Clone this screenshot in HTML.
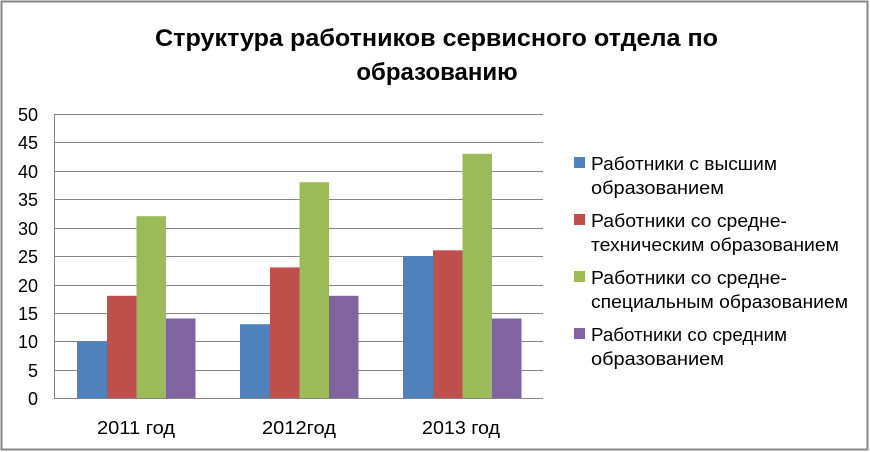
<!DOCTYPE html>
<html><head><meta charset="utf-8"><style>
body{margin:0;width:870px;height:452px;background:#fff;overflow:hidden}
svg{display:block;font-family:"Liberation Sans","DejaVu Sans",sans-serif}
</style></head><body>
<svg width="870" height="452" viewBox="0 0 870 452">
<rect x="1.5" y="1.5" width="866" height="448" fill="#fff" stroke="#868686" stroke-width="2"/>
<text x="155" y="46" font-size="24" font-weight="bold" textLength="563" lengthAdjust="spacingAndGlyphs">Структура работников сервисного отдела по</text>
<text x="437" y="80" text-anchor="middle" font-size="24" font-weight="bold">образованию</text>
<g stroke="#868686" stroke-width="1">
<line x1="54" y1="114.5" x2="543" y2="114.5"/><line x1="54" y1="142.5" x2="543" y2="142.5"/>
<line x1="54" y1="171.5" x2="543" y2="171.5"/><line x1="54" y1="199.5" x2="543" y2="199.5"/>
<line x1="54" y1="228.5" x2="543" y2="228.5"/><line x1="54" y1="256.5" x2="543" y2="256.5"/>
<line x1="54" y1="285.5" x2="543" y2="285.5"/><line x1="54" y1="313.5" x2="543" y2="313.5"/>
<line x1="54" y1="341.5" x2="543" y2="341.5"/><line x1="54" y1="370.5" x2="543" y2="370.5"/>
</g>
<g font-size="18" text-anchor="end" fill="#000">
<text x="38" y="121">50</text><text x="38" y="149">45</text><text x="38" y="178">40</text>
<text x="38" y="206">35</text><text x="38" y="235">30</text><text x="38" y="263">25</text>
<text x="38" y="292">20</text><text x="38" y="320">15</text><text x="38" y="348">10</text>
<text x="38" y="377">5</text><text x="38" y="405">0</text>
</g>
<g>
<rect x="77" y="341.2" width="30" height="56.8" fill="#4f81bd"/>
<rect x="107" y="295.8" width="29.5" height="102.2" fill="#c0504d"/>
<rect x="136.5" y="216.2" width="29.5" height="181.8" fill="#9bbb59"/>
<rect x="166" y="318.5" width="29.5" height="79.5" fill="#8064a2"/>
<rect x="240" y="324.2" width="30" height="73.8" fill="#4f81bd"/>
<rect x="270" y="267.4" width="29.5" height="130.6" fill="#c0504d"/>
<rect x="299.5" y="182.2" width="29.5" height="215.8" fill="#9bbb59"/>
<rect x="329" y="295.8" width="29.5" height="102.2" fill="#8064a2"/>
<rect x="403" y="256" width="30" height="142" fill="#4f81bd"/>
<rect x="433" y="250.3" width="29.5" height="147.7" fill="#c0504d"/>
<rect x="462.5" y="153.8" width="29.5" height="244.2" fill="#9bbb59"/>
<rect x="492" y="318.5" width="29.5" height="79.5" fill="#8064a2"/>
</g>
<line x1="54" y1="398.5" x2="543" y2="398.5" stroke="#868686"/>
<line x1="54.5" y1="114" x2="54.5" y2="399" stroke="#868686"/>
<g font-size="18">
<text x="97" y="434" textLength="78" lengthAdjust="spacingAndGlyphs">2011 год</text>
<text x="262" y="434" textLength="74" lengthAdjust="spacingAndGlyphs">2012год</text>
<text x="422" y="434" textLength="78" lengthAdjust="spacingAndGlyphs">2013 год</text>
</g>
<g font-size="18">
<rect x="574" y="157" width="11" height="11" fill="#4f81bd"/>
<text x="591" y="170" textLength="186" lengthAdjust="spacingAndGlyphs">Работники с высшим</text><text x="591" y="194" textLength="133" lengthAdjust="spacingAndGlyphs">образованием</text>
<rect x="574" y="214" width="11" height="11" fill="#c0504d"/>
<text x="591" y="227" textLength="196" lengthAdjust="spacingAndGlyphs">Работники со средне-</text><text x="591" y="251" textLength="248" lengthAdjust="spacingAndGlyphs">техническим образованием</text>
<rect x="574" y="271" width="11" height="11" fill="#9bbb59"/>
<text x="591" y="284" textLength="196" lengthAdjust="spacingAndGlyphs">Работники со средне-</text><text x="591" y="308" textLength="257" lengthAdjust="spacingAndGlyphs">специальным образованием</text>
<rect x="574" y="328" width="11" height="11" fill="#8064a2"/>
<text x="591" y="341" textLength="196" lengthAdjust="spacingAndGlyphs">Работники со средним</text><text x="591" y="365" textLength="133" lengthAdjust="spacingAndGlyphs">образованием</text>
</g>
</svg>
</body></html>
